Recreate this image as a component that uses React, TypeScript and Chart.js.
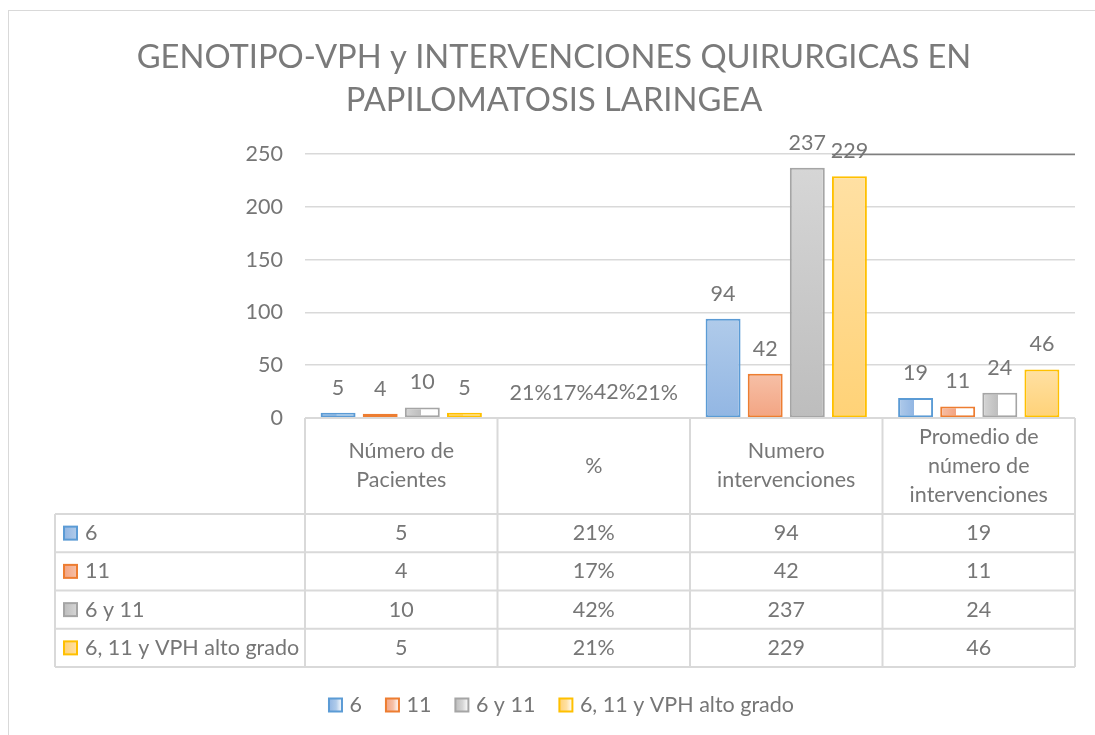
import React, { useEffect, useRef } from 'react';
import { Chart, registerables } from 'chart.js';

Chart.register(...registerables);

const titleLines = ['GENOTIPO-VPH y INTERVENCIONES QUIRURGICAS EN', 'PAPILOMATOSIS LARINGEA'];
const categoryLines = [
  ['Número de', 'Pacientes'],
  ['%'],
  ['Numero', 'intervenciones'],
  ['Promedio de', 'número de', 'intervenciones'],
];
const seriesNames = ['6', '11', '6 y 11', '6, 11 y VPH alto grado'];
const pacientes = [5, 4, 10, 5];
const porcentaje = [0.21, 0.17, 0.42, 0.21];
const intervenciones = [94, 42, 237, 229];
const promedio = [19, 11, 24, 46];
const yMin = 0;
const yMax = 250;
const yStep = 50;
const percentCategory = 1;

const borderColors = ['#5b9bd5', '#ed7d31', '#a5a5a5', '#ffc000'];
const topColors = ['#b0cbea', '#f6c0a7', '#d6d6d6', '#ffe0a3'];
const bottomColors = ['#92b6e3', '#f3a482', '#bdbdbd', '#ffd277'];

const FONT = 'Lato, "Open Sans", sans-serif';
const TEXT = '#767676';
const LINE = '#d9d9d9';
const CAT_PCT = 0.875;
const BAR_PCT = 0.83;
const FS = 21.5;

function fmt(v: number, cat: number) {
  return cat === percentCategory ? Math.round(v * 100) + '%' : String(v);
}

function makeFill(ctx: any, i: number) {
  const chart = ctx.chart;
  const area = chart.chartArea;
  if (!area || ctx.type !== 'data') return bottomColors[i];
  const ys = chart.scales.y;
  const xs = chart.scales.x;
  const v = ctx.raw as number;
  const top = ys.getPixelForValue(v);
  const base = ys.getPixelForValue(0);
  const c = chart.ctx as CanvasRenderingContext2D;
  if (base - top >= 32) {
    const g = c.createLinearGradient(0, top, 0, base);
    g.addColorStop(0, topColors[i]);
    g.addColorStop(1, bottomColors[i]);
    return g;
  }
  const catW = xs.getPixelForValue(1) - xs.getPixelForValue(0);
  const slot = (catW * CAT_PCT) / 4;
  const left = xs.getPixelForValue(ctx.dataIndex) - (catW * CAT_PCT) / 2 + i * slot + (slot * (1 - BAR_PCT)) / 2;
  const w = slot * BAR_PCT;
  const g = c.createLinearGradient(left, 0, left + w, 0);
  g.addColorStop(0, topColors[i]);
  g.addColorStop(0.45, bottomColors[i]);
  g.addColorStop(0.46, '#ffffff');
  g.addColorStop(1, '#ffffff');
  return g;
}

function drawSwatch(c: CanvasRenderingContext2D, x: number, y: number, i: number, fade: boolean) {
  const s = 13;
  const g = c.createLinearGradient(x, 0, x + s, 0);
  g.addColorStop(0, bottomColors[i]);
  g.addColorStop(fade ? 0.55 : 1, topColors[i]);
  if (fade) g.addColorStop(1, '#ffffff');
  c.fillStyle = g;
  c.fillRect(x, y - s / 2, s, s);
  c.strokeStyle = borderColors[i];
  c.lineWidth = 2;
  c.strokeRect(x, y - s / 2, s, s);
}

const decorPlugin = {
  id: 'decor',
  beforeDraw(chart: any) {
    const c = chart.ctx as CanvasRenderingContext2D;
    c.save();
    c.fillStyle = '#ffffff';
    c.fillRect(0, 0, chart.width, chart.height);
    c.strokeStyle = LINE;
    c.lineWidth = 1;
    c.strokeRect(8.5, 10.5, chart.width + 50, chart.height + 50);
    c.restore();
  },
  afterDatasetsDraw(chart: any) {
    const c = chart.ctx as CanvasRenderingContext2D;
    const area = chart.chartArea;
    const ys = chart.scales.y;
    c.save();
    // dark line at the top gridline, starting at the last series' bar of the third category
    const el = chart.getDatasetMeta(3).data[2];
    if (el) {
      const y = Math.round(ys.getPixelForValue(yMax)) + 0.5;
      c.strokeStyle = '#7f7f7f';
      c.lineWidth = 1.5;
      c.beginPath();
      c.moveTo(el.x - el.width / 2, y);
      c.lineTo(area.right, y);
      c.stroke();
    }
    // data labels
    c.font = `${FS}px ${FONT}`;
    c.fillStyle = TEXT;
    c.textAlign = 'center';
    c.textBaseline = 'middle';
    chart.data.datasets.forEach((ds: any, di: number) => {
      const meta = chart.getDatasetMeta(di);
      meta.data.forEach((b: any, j: number) => {
        c.fillText(fmt(ds.data[j], j), b.x, b.y - 25);
      });
    });
    c.restore();
  },
  afterDraw(chart: any) {
    const c = chart.ctx as CanvasRenderingContext2D;
    const area = chart.chartArea;
    const xs = chart.scales.x;
    c.save();
    // title
    c.font = `32.7px ${FONT}`;
    c.fillStyle = '#7a7a7a';
    c.textAlign = 'center';
    c.textBaseline = 'middle';
    c.fillText(titleLines[0], 554, 57);
    c.fillText(titleLines[1], 554, 100);

    // data table
    const catW = xs.getPixelForValue(1) - xs.getPixelForValue(0);
    const bounds = categoryLines.map((_, k) => area.left + k * catW).concat([area.left + categoryLines.length * catW]);
    const headTop = area.bottom;
    const headBottom = headTop + 96;
    const rowH = 38.25;
    const tableLeft = 55;
    const rowsBottom = headBottom + rowH * seriesNames.length;
    c.strokeStyle = LINE;
    c.lineWidth = 2;
    c.beginPath();
    c.moveTo(area.left, headTop);
    c.lineTo(area.right, headTop);
    for (let r = 0; r <= seriesNames.length; r++) {
      const y = headBottom + r * rowH;
      c.moveTo(tableLeft, y);
      c.lineTo(area.right, y);
    }
    bounds.forEach((x) => {
      c.moveTo(x, headTop);
      c.lineTo(x, rowsBottom);
    });
    c.moveTo(tableLeft, headBottom);
    c.lineTo(tableLeft, rowsBottom);
    c.stroke();

    c.font = `${FS}px ${FONT}`;
    c.fillStyle = TEXT;
    c.textAlign = 'center';
    c.textBaseline = 'middle';
    const headMid = (headTop + headBottom) / 2;
    const lh = 29;
    categoryLines.forEach((lines, k) => {
      const cx = xs.getPixelForValue(k);
      lines.forEach((t, li) => {
        c.fillText(t, cx, headMid + (li - (lines.length - 1) / 2) * lh);
      });
    });
    const cols = [pacientes, porcentaje, intervenciones, promedio];
    seriesNames.forEach((name, r) => {
      const cy = headBottom + r * rowH + rowH / 2;
      drawSwatch(c, 64, cy, r, false);
      c.fillStyle = TEXT;
      c.textAlign = 'left';
      c.fillText(name, 85, cy);
      c.textAlign = 'center';
      cols.forEach((col, k) => {
        c.fillText(fmt(col[r], k), xs.getPixelForValue(k), cy);
      });
    });

    // legend
    const legY = 705;
    const sw = 14;
    const gapIn = 6.5;
    const gapOut = 24;
    const widths = seriesNames.map((n) => c.measureText(n).width);
    const total = widths.reduce((a, w) => a + sw + gapIn + w, 0) + gapOut * (seriesNames.length - 1);
    let x = 561.5 - total / 2;
    seriesNames.forEach((n, i) => {
      drawSwatch(c, x, legY, i, true);
      c.fillStyle = TEXT;
      c.textAlign = 'left';
      c.fillText(n, x + sw + gapIn, legY);
      x += sw + gapIn + widths[i] + gapOut;
    });
    c.restore();
  },
};

export default function App() {
  const ref = useRef<HTMLCanvasElement>(null);
  useEffect(() => {
    const datasets = seriesNames.map((name, i) => ({
      label: name,
      data: [pacientes[i], porcentaje[i], intervenciones[i], promedio[i]],
      backgroundColor: (ctx: any) => makeFill(ctx, i),
      borderColor: borderColors[i],
      borderWidth: 2,
      borderSkipped: false,
      categoryPercentage: CAT_PCT,
      barPercentage: BAR_PCT,
    }));
    const chart = new Chart(ref.current as HTMLCanvasElement, {
      type: 'bar',
      data: { labels: categoryLines.map((l) => l.join(' ')), datasets: datasets as any },
      options: {
        animation: false,
        responsive: false,
        devicePixelRatio: 1,
        layout: { padding: { left: 0, right: 20, top: 154, bottom: 317 } },
        plugins: { legend: { display: false }, tooltip: { enabled: false }, title: { display: false } },
        scales: {
          x: { display: false },
          y: {
            min: yMin,
            max: yMax,
            afterFit: (s: any) => {
              s.width = 305;
            },
            border: { display: false },
            grid: { color: LINE, lineWidth: 1.5, drawTicks: false },
            ticks: {
              stepSize: yStep,
              padding: 22,
              color: TEXT,
              font: { family: FONT, size: FS },
            },
          },
        },
      },
      plugins: [decorPlugin],
    });
    return () => chart.destroy();
  }, []);
  return (
    <div style={{ position: 'fixed', left: 0, top: 0, width: 1095, height: 735, background: '#fff', overflow: 'hidden' }}>
      <canvas ref={ref} width={1095} height={735} style={{ display: 'block' }} />
    </div>
  );
}
